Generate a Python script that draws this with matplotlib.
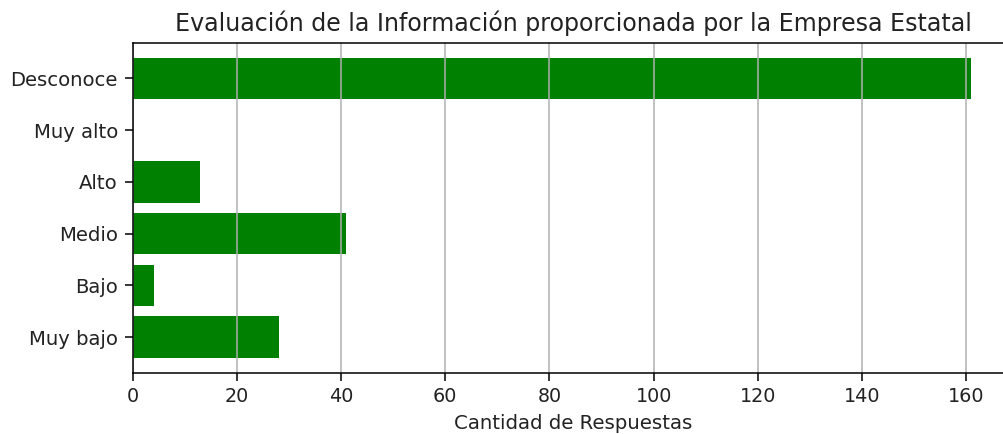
import matplotlib.pyplot as plt

categorias = ["Muy bajo", "Bajo", "Medio", "Alto", "Muy alto", "Desconoce"]
cantidades = [28, 4, 41, 13, 0, 161]

plt.rcParams["text.color"] = "#222222"
plt.rcParams["axes.labelcolor"] = "#222222"
plt.rcParams["xtick.labelcolor"] = "#222222"
plt.rcParams["ytick.labelcolor"] = "#222222"
plt.rcParams["xtick.major.size"] = 4.2
plt.rcParams["ytick.major.size"] = 4.2

dpi = 138
fig = plt.figure(figsize=(1003 / dpi, 434 / dpi), dpi=dpi)
# el eje se sale un poco por la derecha, como en la imagen original
ax = fig.add_axes([132.7 / 1003, 61.3 / 434, 880.7 / 1003, 330 / 434])

ax.barh(categorias, cantidades, color="green")
ax.grid(axis="x")
ax.spines["right"].set_visible(False)
ax.tick_params(axis="y", labelsize=10.25)
ax.set_xlabel("Cantidad de Respuestas", fontsize=10.3)
ax.set_title("Evaluación de la Información proporcionada por la Empresa Estatal",
             fontsize=12.4)

fig.savefig("out.png", dpi=dpi)
